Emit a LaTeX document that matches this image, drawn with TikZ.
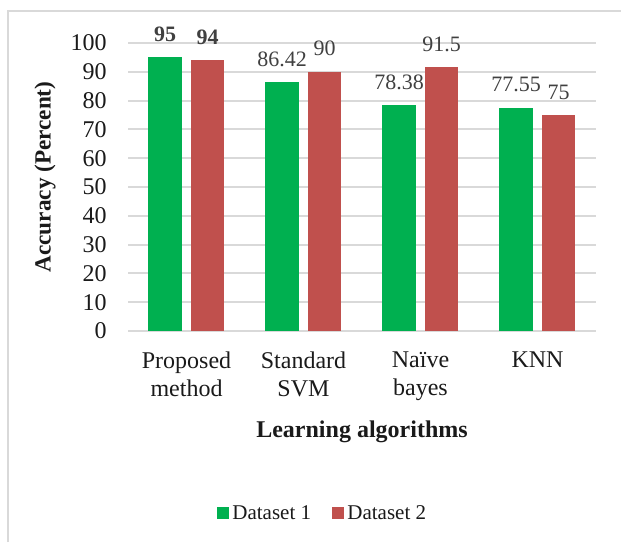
\documentclass[tikz,border=0pt]{standalone}
\usepackage{fontspec}
\setmainfont{Liberation Serif}
\definecolor{barone}{HTML}{00B050}
\definecolor{bartwo}{HTML}{C0504D}
\definecolor{gridgray}{HTML}{D9D9D9}
\definecolor{labelgray}{HTML}{404040}
\definecolor{textdark}{HTML}{1A1A1A}

\begin{document}
\begin{tikzpicture}[x=0.5pt, y=-0.5pt, font=\fontsize{12}{14}\selectfont, text=textdark]
    \useasboundingbox (0,0) rectangle (621,542);
    %% --- chart frame ---
    \draw[gridgray, line width=0.6pt] (8,542) -- (8,11) -- (621,11);
    %% --- gridlines and tick labels ---
    \foreach \v in {0,10,...,100} {
      \draw[gridgray, line width=1pt] (128,{331-2.88*\v}) -- (596,{331-2.88*\v});
      \node[anchor=east, inner sep=0pt] (tick\v) at (107,{331-2.88*\v}) {\v};
    }
    %% --- bars, values and categories ---
    \foreach \i/\name/\cat/\a/\b/\lf in {0/prop/{Proposed\\method}/95/94/\bfseries,
        1/svm/{Standard\\SVM}/86.42/90/\relax,
        2/nb/{Naïve\\bayes}/78.38/91.5/\relax,
        3/knn/{KNN}/77.55/75/\relax} {
      \pgfmathsetmacro\cx{186.5+117*\i}
      \fill[barone] ({\cx-38.5},331) rectangle ({\cx-4.5},{331-2.88*\a});
      \fill[bartwo] ({\cx+4.5},331) rectangle ({\cx+37.5},{331-2.88*\b});
      \node[anchor=base, inner sep=0pt, text=labelgray, font={\fontsize{11}{13}\selectfont\lf}]
        (vala\name) at ({\cx-21.5},{331-2.88*\a-16}) {\a};
      \node[anchor=base, inner sep=0pt, text=labelgray, font={\fontsize{11}{13}\selectfont\lf}]
        (valb\name) at ({\cx+21},{331-2.88*\b-16}) {\b};
      \node[anchor=north, inner sep=0pt, align=center] (cat\name) at (\cx,351) {\cat};
    }
    %% --- axis titles ---
    \node[rotate=90, font=\bfseries\fontsize{11.6}{14}\selectfont] (ytitle) at (45,177)
      {Accuracy (Percent)};
    \node[anchor=base, font=\bfseries\fontsize{12}{14}\selectfont] (xtitle) at (362,437)
      {Learning algorithms};
    %% --- legend ---
    \fill[barone] (217,507) rectangle (229,519);
    \node[anchor=west, inner sep=0pt, font=\fontsize{10.5}{12}\selectfont] (legone) at (232,513) {Dataset 1};
    \fill[bartwo] (332,507) rectangle (344,519);
    \node[anchor=west, inner sep=0pt, font=\fontsize{10.5}{12}\selectfont] (legtwo) at (347,513) {Dataset 2};
  \end{tikzpicture}
\end{document}
